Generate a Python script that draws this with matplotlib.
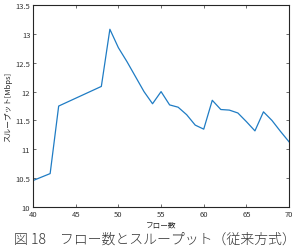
import matplotlib
matplotlib.use("Agg")
import matplotlib.pyplot as plt

plt.rcParams['font.family'] = ['Noto Sans CJK JP', 'DejaVu Sans']

# flow count vs throughput
flows = [40, 42, 43, 48, 49, 50, 51, 52, 53, 54, 55, 56, 57, 58, 59, 60,
         61, 62, 63, 64, 65, 66, 67, 68, 69, 70]
throughput = [10.46, 10.58, 11.75, 12.09, 13.08, 12.76, 12.52, 12.26, 12.0, 11.79,
              12.0, 11.77, 11.73, 11.6, 11.42, 11.35,
              11.85, 11.69, 11.68, 11.63, 11.48, 11.32, 11.65, 11.5, 11.31, 11.13]

xticks = [40, 45, 50, 55, 60, 65, 70]
yticks = [10, 10.5, 11, 11.5, 12, 12.5, 13, 13.5]

fig = plt.figure(figsize=(2.98, 2.51), dpi=100)
ax = fig.add_axes([0.111, 0.171, 0.859, 0.805])

ax.plot(flows, throughput, color='#1f7cc4', linewidth=0.9)

ax.set_xlim(40, 70)
ax.set_ylim(10, 13.5)
ax.set_xticks(xticks)
ax.set_yticks(yticks)
ax.set_xticklabels([str(t) for t in xticks])
ax.set_yticklabels(['10', '10.5', '11', '11.5', '12', '12.5', '13', '13.5'])
ax.tick_params(direction='in', top=True, right=True, length=2.5, width=0.5,
               labelsize=5.5, colors='#333333', pad=2)
for s in ax.spines.values():
    s.set_linewidth(0.8)
    s.set_color('#262626')

ax.set_xlabel('フロー数', fontsize=5.5, color='#262626', labelpad=2)
ax.set_ylabel('スループット[Mbps]', fontsize=5.5, color='#262626', labelpad=2)

fig.text(0.52, 0.045, '図 18　フロー数とスループット（従来方式）',
         ha='center', va='center', fontsize=10, color='#333333',
         fontweight='light')

fig.savefig('out.png', dpi=100)
